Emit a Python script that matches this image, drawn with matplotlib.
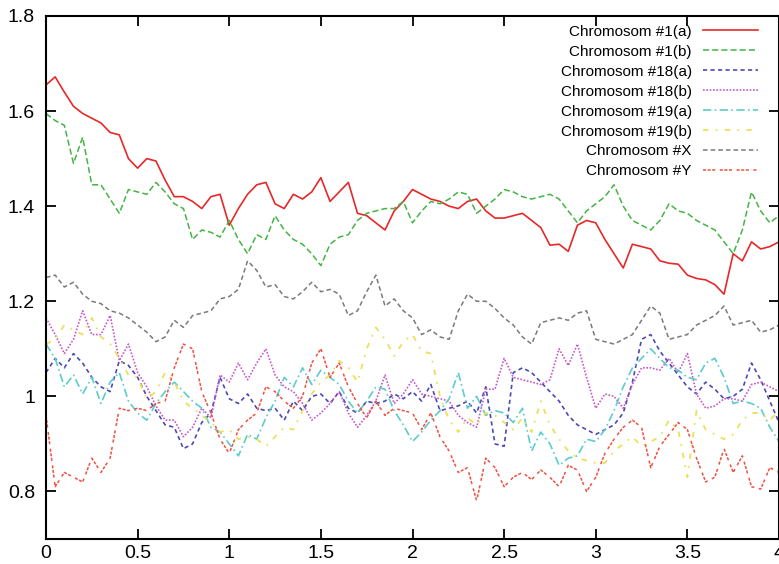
import numpy as np
import matplotlib
matplotlib.use("Agg")
import matplotlib.pyplot as plt
from matplotlib.ticker import FuncFormatter, MultipleLocator

plt.rcParams["font.family"] = ["Liberation Sans", "DejaVu Sans"]

x = np.round(np.arange(0, 4.0001, 0.05), 2)

chr1a = [1.655, 1.672, 1.64, 1.61, 1.595, 1.585, 1.575, 1.555, 1.55, 1.50,
         1.48, 1.50, 1.495, 1.455, 1.42, 1.42, 1.41, 1.395, 1.42, 1.425,
         1.36, 1.395, 1.425, 1.445, 1.45, 1.405, 1.395, 1.425, 1.415, 1.43,
         1.46, 1.41, 1.43, 1.45, 1.385, 1.38, 1.365, 1.35, 1.39, 1.41,
         1.435, 1.425, 1.415, 1.41, 1.40, 1.395, 1.41, 1.415, 1.39, 1.375,
         1.375, 1.38, 1.385, 1.37, 1.355, 1.318, 1.32, 1.305, 1.36, 1.37,
         1.365, 1.33, 1.30, 1.27, 1.32, 1.315, 1.31, 1.285, 1.28, 1.278,
         1.255, 1.248, 1.245, 1.235, 1.215, 1.30, 1.285, 1.325, 1.31, 1.315,
         1.325]
chr1b = [1.595, 1.58, 1.57, 1.49, 1.545, 1.445, 1.445, 1.415, 1.385, 1.435,
         1.43, 1.425, 1.45, 1.43, 1.405, 1.395, 1.33, 1.35, 1.345, 1.335,
         1.37, 1.33, 1.30, 1.34, 1.33, 1.38, 1.35, 1.33, 1.32, 1.30,
         1.275, 1.32, 1.335, 1.34, 1.37, 1.385, 1.39, 1.395, 1.395, 1.41,
         1.365, 1.39, 1.41, 1.405, 1.415, 1.43, 1.425, 1.385, 1.40, 1.415,
         1.435, 1.43, 1.42, 1.415, 1.42, 1.425, 1.415, 1.39, 1.365, 1.39,
         1.405, 1.42, 1.445, 1.40, 1.37, 1.36, 1.35, 1.37, 1.405, 1.39,
         1.385, 1.37, 1.36, 1.35, 1.325, 1.30, 1.35, 1.43, 1.39, 1.365,
         1.38]
chr18a = [1.05, 1.08, 1.06, 1.09, 1.07, 1.04, 1.02, 1.01, 1.075, 1.065,
          1.04, 1.00, 0.97, 0.94, 0.935, 0.89, 0.90, 0.945, 0.965, 1.04,
          0.995, 0.985, 1.005, 0.975, 0.97, 0.975, 0.95, 0.99, 0.97, 1.00,
          1.005, 0.985, 1.01, 0.975, 0.965, 0.99, 0.985, 0.99, 1.005, 0.995,
          1.01, 0.99, 1.025, 0.97, 0.975, 0.98, 0.99, 0.965, 1.02, 0.90,
          0.895, 1.05, 1.06, 1.05, 1.03, 1.01, 0.99, 0.96, 0.94, 0.93,
          0.92, 0.93, 0.94, 0.965, 1.03, 1.12, 1.13, 1.095, 1.07, 1.045,
          1.02, 1.005, 1.03, 1.015, 0.995, 1.00, 1.015, 1.07, 1.035, 0.99,
          0.945]
chr18b = [1.165, 1.13, 1.09, 1.12, 1.18, 1.13, 1.13, 1.17, 1.075, 1.11,
          1.05, 1.02, 0.98, 0.95, 0.95, 0.915, 0.935, 0.975, 0.955, 1.045,
          1.03, 1.07, 1.035, 1.07, 1.10, 1.045, 1.02, 1.01, 0.985, 0.95,
          0.965, 0.985, 1.01, 0.965, 0.935, 0.96, 0.99, 1.045, 0.985, 1.005,
          1.035, 1.005, 1.00, 0.995, 0.99, 0.96, 0.945, 0.935, 1.015, 1.015,
          1.08, 1.04, 1.035, 1.03, 1.025, 1.035, 1.10, 1.065, 1.11, 1.04,
          0.975, 1.005, 1.00, 0.975, 1.025, 1.06, 1.06, 1.055, 1.08, 1.05,
          1.09, 1.005, 0.975, 0.98, 0.995, 0.995, 0.99, 1.025, 1.03, 1.02,
          1.01]
chr19a = [1.11, 1.08, 1.02, 1.045, 1.005, 1.04, 0.985, 1.03, 1.05, 0.99,
          0.965, 0.95, 0.985, 1.01, 1.03, 1.01, 0.99, 0.975, 0.935, 0.925,
          0.90, 0.875, 0.92, 0.91, 0.955, 0.99, 1.04, 1.02, 1.06, 1.025,
          1.055, 1.04, 1.025, 0.99, 0.965, 0.99, 1.02, 1.015, 0.97, 0.94,
          0.905, 0.925, 0.95, 0.97, 0.995, 1.05, 0.975, 1.00, 0.96, 0.97,
          0.965, 0.945, 0.975, 0.885, 0.925, 0.90, 0.855, 0.87, 0.875, 0.91,
          0.905, 0.93, 0.97, 1.02, 1.06, 1.08, 1.10, 1.08, 1.06, 1.055,
          1.04, 1.035, 1.07, 1.08, 1.04, 0.985, 0.99, 0.985, 0.975, 0.935,
          0.905]
chr19b = [1.11, 1.12, 1.15, 1.14, 1.13, 1.165, 1.125, 1.11, 1.08, 1.045,
          1.04, 0.995, 1.01, 1.05, 1.03, 0.99, 0.975, 0.96, 0.945, 0.925,
          0.93, 0.91, 0.915, 0.91, 0.895, 0.915, 0.935, 0.93, 0.97, 1.005,
          1.03, 1.045, 1.075, 1.06, 1.03, 1.10, 1.145, 1.12, 1.085, 1.115,
          1.13, 1.095, 1.09, 1.00, 0.95, 0.925, 0.955, 0.94, 0.965, 0.96,
          0.945, 0.93, 0.955, 0.925, 0.99, 0.94, 0.91, 0.885, 0.87, 0.865,
          0.86, 0.86, 0.885, 0.90, 0.915, 0.895, 0.905, 0.915, 0.95, 0.93,
          0.83, 0.97, 0.93, 0.92, 0.91, 0.92, 0.95, 0.965, 0.965, 0.95,
          0.97]
chrX = [1.25, 1.255, 1.23, 1.24, 1.215, 1.20, 1.195, 1.18, 1.175, 1.165,
        1.15, 1.135, 1.115, 1.125, 1.16, 1.145, 1.17, 1.175, 1.18, 1.205,
        1.21, 1.225, 1.285, 1.265, 1.23, 1.235, 1.21, 1.205, 1.22, 1.24,
        1.22, 1.225, 1.215, 1.17, 1.18, 1.22, 1.255, 1.19, 1.205, 1.18,
        1.165, 1.13, 1.14, 1.125, 1.12, 1.18, 1.215, 1.20, 1.20, 1.185,
        1.165, 1.15, 1.125, 1.11, 1.155, 1.16, 1.165, 1.16, 1.175, 1.18,
        1.12, 1.115, 1.11, 1.12, 1.13, 1.16, 1.19, 1.175, 1.12, 1.125,
        1.13, 1.15, 1.16, 1.17, 1.19, 1.15, 1.155, 1.16, 1.135, 1.14,
        1.15]
chrY = [0.96, 0.81, 0.84, 0.83, 0.82, 0.87, 0.84, 0.87, 0.975, 0.97,
        0.975, 0.97, 0.985, 0.99, 1.06, 1.11, 1.10, 1.01, 0.965, 0.91,
        0.88, 0.93, 0.95, 0.965, 1.02, 1.01, 0.99, 0.975, 1.00, 1.07,
        1.10, 1.04, 1.07, 1.02, 0.985, 0.955, 0.99, 0.96, 0.975, 0.97,
        0.965, 0.93, 0.965, 0.915, 0.885, 0.84, 0.85, 0.78, 0.87, 0.85,
        0.81, 0.83, 0.84, 0.825, 0.845, 0.83, 0.81, 0.855, 0.845, 0.80,
        0.83, 0.88, 0.91, 0.935, 0.95, 0.935, 0.85, 0.895, 0.92, 0.945,
        0.93, 0.87, 0.82, 0.83, 0.89, 0.84, 0.875, 0.81, 0.805, 0.85,
        0.84]

labels = ["Chromosom #1(a)", "Chromosom #1(b)", "Chromosom #18(a)", "Chromosom #18(b)",
          "Chromosom #19(a)", "Chromosom #19(b)", "Chromosom #X", "Chromosom #Y"]
series = [chr1a, chr1b, chr18a, chr18b, chr19a, chr19b, chrX, chrY]
colors = ["#e62828", "#44b444", "#4a4ab4", "#c858c8", "#5ccccc", "#ece058", "#7a7a7a", "#f05040"]
styles = ["-", (0, (4, 2)), (0, (2.5, 2)), (0, (1, 1)), (0, (5, 2, 1, 2)),
          (0, (3, 4, 1, 4)), (0, (3, 2)), (0, (2, 1, 2, 1, 2, 3))]
widths = [1.2, 1.1, 1.2, 1.2, 1.2, 1.3, 1.1, 1.1]

fig = plt.figure(figsize=(7.79, 5.64), dpi=100)
ax = fig.add_axes([46 / 779, 1 - 539 / 564, 733 / 779, 523 / 564])

for lab, s, c, ls, lw in zip(labels, series, colors, styles, widths):
    ax.plot(x, s, color=c, linestyle=ls, linewidth=lw, label=lab)

ax.set_xlim(0, 4)
ax.set_ylim(0.7, 1.8)
ax.xaxis.set_major_locator(MultipleLocator(0.5))
ax.yaxis.set_major_locator(MultipleLocator(0.2))
fmt = FuncFormatter(lambda v, p: "%g" % round(v, 3))
ax.xaxis.set_major_formatter(fmt)
ax.yaxis.set_major_formatter(fmt)
ax.tick_params(direction="in", length=7, width=1.3, top=True, right=True,
               labelsize=14, colors="black")
ax.tick_params(axis="x", pad=4)
ax.tick_params(axis="y", pad=8)
for sp in ax.spines.values():
    sp.set_linewidth(1.5)

leg = ax.legend(loc="upper right", bbox_to_anchor=(0.98, 0.995), frameon=False,
                markerfirst=False, fontsize=11, handlelength=3.6,
                labelspacing=0.39, handletextpad=0.75, borderaxespad=0.0)
for col in leg._legend_handle_box.get_children():
    col.align = "right"

fig.savefig("out.png", dpi=100)
